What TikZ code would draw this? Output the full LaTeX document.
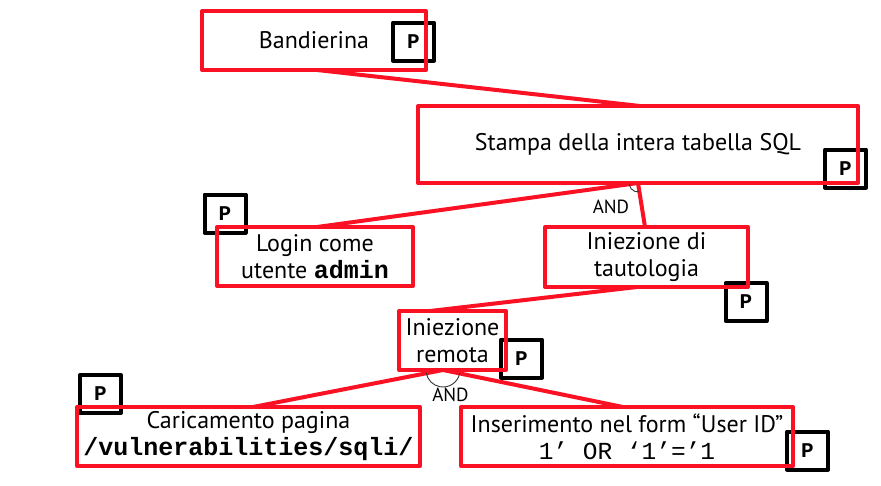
\documentclass[tikz,border=0pt]{standalone}
\usepackage{fontspec}
\setmainfont{PT Sans}
\setmonofont{Liberation Mono}
\definecolor{boxred}{RGB}{250,18,36}
\newcommand\monob[1]{{\fontsize{25}{27}\selectfont\ttfamily\bfseries #1}}
\newcommand\monor[1]{{\fontsize{24.5}{27}\selectfont\ttfamily #1}}
\begin{document}
\begin{tikzpicture}[x=1pt,y=-1pt,
  rbox/.style={draw=boxred, line width=4pt, line join=round, rectangle, inner sep=0pt, outer sep=0pt, align=center, font=\fontsize{24}{27}\selectfont},
  pbox/.style={draw=black, line width=4pt, line join=round, rectangle, minimum width=41pt, minimum height=38pt, inner sep=0pt, outer sep=0pt, font=\fontsize{21}{21}\selectfont\ttfamily\bfseries},
  conn/.style={draw=boxred, line width=4pt, line cap=round},
  andarc/.style={draw=black!80, line width=0.9pt},
  andlbl/.style={font=\fontsize{19}{19}\selectfont, inner sep=0pt}]
\useasboundingbox (0,0) rectangle (881,485);

% P boxes
\node[pbox] (p1) at (413.5,41.5) {P};
\node[pbox] (p2) at (845.5,168.5) {P};
\node[pbox] (p3) at (225,213.5) {P};
\node[pbox] (p4) at (746,302) {P};
\node[pbox] (p5) at (521.5,358.5) {P};
\node[pbox] (p6) at (100.5,394) {P};
\node[pbox] (p7) at (807.5,450.5) {P};

% red boxes
\node[rbox, minimum width=224pt, minimum height=59pt] (band) at (314,40.5) {Bandierina};
\node[rbox, minimum width=440pt, minimum height=77pt] (stampa) at (638,144.5) {Stampa della intera tabella SQL};
\node[rbox, minimum width=196pt, minimum height=59pt] (login) at (315,256.5) {Login come\\utente \monob{admin}};
\node[rbox, minimum width=203pt, minimum height=60pt] (taut) at (646.5,257) {Iniezione di\\tautologia};
\node[rbox, minimum width=107pt, minimum height=59pt] (remota) at (452.5,340.5) {Iniezione\\remota};
\node[rbox, minimum width=343pt, minimum height=59pt] (caric) at (248.5,436.5) {Caricamento pagina\\\monob{/vulnerabilities/sqli/}};
\node[rbox, minimum width=332pt, minimum height=59pt] (inser) at (627,436.5) {Inserimento nel form “User ID”\\\monor{1’ OR ‘1’=’1}};

% connectors
\draw[conn] ([xshift=3pt]band.south) -- ([xshift=2pt]stampa.north);
\draw[conn] (stampa.south) -- ([xshift=2pt]login.north);
\draw[conn] (stampa.south) -- ([xshift=-1.5pt]taut.north);
\draw[conn] ([xshift=-9.5pt]taut.south) -- ([xshift=-22.5pt]remota.north);
\draw[conn] ([xshift=-9.5pt]remota.south) -- ([xshift=4.5pt]caric.north);
\draw[conn] ([xshift=-9.5pt]remota.south) -- ([xshift=-4pt]inser.north);

% AND arcs and labels
\draw[andarc] (stampa.south) ++(80:9) arc[start angle=80, end angle=172, radius=9];
\draw[andarc] ([xshift=-9.5pt]remota.south) ++(11:17) arc[start angle=11, end angle=170, radius=17];
\node[andlbl] (and1) at (611,207) {AND};
\node[andlbl] (and2) at (450.5,395) {AND};
\end{tikzpicture}
\end{document}
